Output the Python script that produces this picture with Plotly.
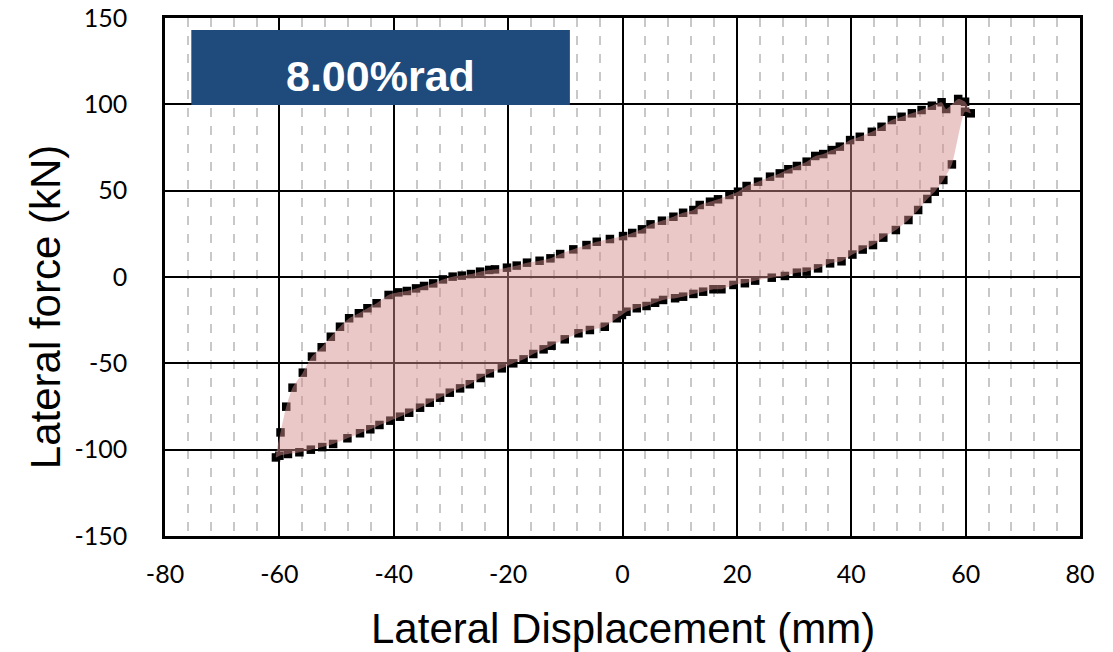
import plotly.graph_objects as go

# Hysteresis loop at 8.00 %rad: lateral displacement (mm) vs lateral force (kN),
# traced clockwise starting at the negative peak.
disp_mm = [
    -60.6, -59.8, -58.8, -57.7, -55.9, -54.3, -52.6, -51.0, -49.4, -47.8,
    -46.1, -44.6, -43.0, -40.9, -39.2, -37.7, -36.1, -34.7, -33.1, -31.4,
    -29.7, -28.1, -26.5, -24.9, -23.3, -22.3, -20.2, -18.5, -16.7, -14.5,
    -12.6, -10.9, -8.6, -6.3, -4.5, -2.2, 0.1, 1.7, 3.4, 4.9,
    6.9, 8.9, 10.6, 12.4, 13.5, 15.3, 16.7, 18.7, 20.2, 21.7,
    23.7, 25.8, 27.5, 29.0, 30.5, 32.2, 33.7, 35.1, 36.6, 38.0,
    39.8, 41.5, 43.6, 45.3, 47.1, 48.8, 50.6, 52.3, 54.1, 55.8,
    56.6, 58.7, 59.9, 60.9, 59.9, 57.6, 56.1, 54.6, 53.3, 51.7,
    50.0, 47.8, 45.6, 43.8, 42.0, 40.2, 38.3, 36.3, 34.2, 32.2,
    30.5, 28.4, 26.1, 23.2, 21.4, 19.4, 17.3, 15.9, 14.1, 12.4,
    10.6, 9.2, 7.1, 5.7, 4.2, 2.5, 0.7, -0.1, -1.0, -3.1,
    -5.7, -7.7, -10.1, -12.4, -13.8, -15.6, -17.3, -19.1, -21.1, -23.2,
    -24.8, -26.7, -28.4, -30.2, -31.9, -33.7, -35.4, -37.3, -38.9, -40.6,
    -42.5, -44.1, -45.9, -48.1, -50.6, -52.5, -54.5, -56.5, -58.5, -60.0,
]
force_kn = [
    -104.5, -90.0, -75.1, -64.1, -55.4, -46.1, -40.7, -34.6, -28.8, -23.9,
    -21.0, -18.1, -15.2, -10.4, -8.9, -8.1, -6.6, -5.2, -3.7, -1.4,
    0.2, 0.8, 1.7, 3.1, 4.1, 4.4, 5.4, 6.6, 8.3, 9.4,
    10.8, 13.3, 16.0, 18.5, 20.4, 22.0, 23.7, 25.5, 27.6, 30.5,
    32.6, 34.9, 37.2, 38.8, 41.7, 43.6, 45.0, 47.5, 49.4, 52.7,
    55.2, 58.1, 60.0, 62.4, 64.3, 66.8, 70.1, 71.2, 73.5, 75.5,
    79.3, 81.2, 84.1, 87.0, 90.9, 92.8, 94.8, 96.7, 99.2, 101.2,
    97.3, 103.1, 101.5, 94.8, 95.7, 65.2, 56.2, 49.4, 45.2, 38.8,
    33.0, 27.2, 22.8, 18.5, 15.9, 13.0, 9.1, 7.9, 5.0, 3.1,
    2.5, 0.6, -0.4, -2.1, -3.6, -4.6, -7.1, -7.1, -8.5, -9.8,
    -11.4, -12.3, -13.3, -14.9, -16.8, -18.1, -20.1, -22.0, -23.9, -28.8,
    -30.7, -32.6, -36.1, -39.8, -41.9, -44.6, -47.7, -50.0, -52.9, -55.8,
    -58.5, -62.1, -64.5, -67.0, -69.9, -72.8, -75.7, -78.6, -80.9, -83.2,
    -85.7, -88.2, -90.5, -93.4, -96.7, -98.5, -100.0, -101.5, -102.5, -103.5,
]

x_ticks = [-80, -60, -40, -20, 0, 20, 40, 60, 80]
y_ticks = [-150, -100, -50, 0, 50, 100, 150]
x_title = "Lateral Displacement (mm)"
y_title = "Lateral force (kN)"
drift_label = "8.00%rad"

fig = go.Figure()

# measured points
fig.add_trace(go.Scatter(
    x=disp_mm, y=force_kn, mode="markers",
    marker=dict(symbol="square", size=8.5, color="black", line=dict(width=0)),
    hoverinfo="x+y", showlegend=False,
))

# translucent area enclosed by the loop (drawn over the points)
fig.add_trace(go.Scatter(
    x=disp_mm + [disp_mm[0]], y=force_kn + [force_kn[0]],
    mode="lines", fill="toself",
    fillcolor="rgba(214,140,140,0.48)",
    line=dict(width=0, color="rgba(0,0,0,0)", shape="spline", smoothing=0.6),
    hoverinfo="skip", showlegend=False,
))

tick_font = dict(family="Lato, Carlito, sans-serif", size=25, color="black")
title_font = "Liberation Sans, Arial, sans-serif"

axis_common = dict(
    showline=True, linecolor="black", linewidth=2.5, mirror=True,
    showgrid=True, gridcolor="black", gridwidth=2,
    zeroline=False, ticks="", automargin=False, tickfont=tick_font,
)

fig.update_xaxes(
    range=[-80, 80], tickvals=x_ticks, ticktext=[str(v) for v in x_ticks],
    ticklabelstandoff=14,
    minor=dict(dtick=4, tick0=0, showgrid=True, gridcolor="#c8c8c8",
               gridwidth=1.5, griddash="9px,9px"),
    **axis_common,
)
fig.update_yaxes(
    range=[-150, 150], tickvals=y_ticks, ticktext=[str(v) for v in y_ticks],
    ticklabelstandoff=30,
    **axis_common,
)

# axis titles
fig.add_annotation(xref="paper", yref="paper", x=0.5, y=-0.178, text=x_title,
                   showarrow=False, xanchor="center", yanchor="middle",
                   font=dict(family=title_font, size=42, color="black"))
fig.add_annotation(xref="paper", yref="paper", x=-0.131, y=0.442, text=y_title,
                   showarrow=False, textangle=-90, xanchor="center", yanchor="middle",
                   font=dict(family=title_font, size=42, color="black"))

# drift-level badge
fig.add_shape(type="rect", xref="x", yref="y", x0=-75.4, x1=-9.2, y0=99.6, y1=143.0,
              fillcolor="#1f4a7c", line=dict(width=0), layer="above")
fig.add_annotation(xref="x", yref="y", x=-42.3, y=116.5, text=drift_label, showarrow=False,
                   font=dict(family=title_font, size=43, color="white", weight="bold"))

fig.update_layout(
    width=1113, height=652,
    margin=dict(l=165, r=33, t=18, b=116),
    plot_bgcolor="white", paper_bgcolor="white",
)

fig.write_html("out.html")
